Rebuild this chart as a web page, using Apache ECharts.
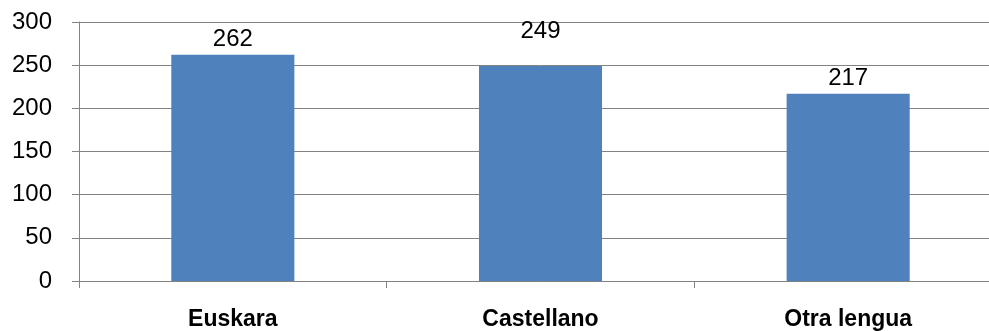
<!DOCTYPE html>
<html>
<head>
<meta charset="utf-8">
<script src="https://cdn.jsdelivr.net/npm/echarts@6/dist/echarts.min.js"></script>
<style>
html,body{margin:0;padding:0;background:#fff;overflow:hidden;}
#chart{width:1010px;height:331px;}
</style>
</head>
<body>
<div id="chart"></div>
<script>
const categories = ['Euskara', 'Castellano', 'Otra lengua'];
const values = [262, 249, 217];
const yTicks = [0, 50, 100, 150, 200, 250, 300];

const chart = echarts.init(document.getElementById('chart'), null, {renderer: 'canvas'});
const font = '"Liberation Sans", Arial, sans-serif';
const seriesData = values.map((v, i) => {
  const d = {value: v};
  if (i === 1) d.label = {offset: [0, -20]};
  return d;
});
chart.setOption({
  animation: false,
  backgroundColor: '#ffffff',
  grid: {left: 79, top: 22, width: 923, height: 259, containLabel: false},
  xAxis: {
    type: 'category',
    data: categories,
    boundaryGap: true,
    axisLine: {show: true, lineStyle: {color: '#828282', width: 1}},
    axisTick: {show: true, length: 7, lineStyle: {color: '#828282'}},
    axisLabel: {margin: 27, color: '#000', fontFamily: font, fontSize: 23, fontWeight: 'bold'},
    splitLine: {show: false}
  },
  yAxis: {
    type: 'value',
    min: yTicks[0],
    max: yTicks[yTicks.length - 1],
    interval: yTicks[1] - yTicks[0],
    axisLine: {show: true, lineStyle: {color: '#828282', width: 1}},
    axisTick: {show: true, length: 7, lineStyle: {color: '#828282'}},
    axisLabel: {margin: 27, color: '#000', fontFamily: font, fontSize: 24},
    splitLine: {show: true, lineStyle: {color: '#828282', width: 1}}
  },
  series: [{
    type: 'bar',
    data: seriesData,
    barWidth: '40%',
    itemStyle: {color: '#4F81BD'},
    label: {show: true, position: 'top', distance: 3, color: '#000', fontFamily: font, fontSize: 24}
  }]
});
</script>
</body>
</html>
